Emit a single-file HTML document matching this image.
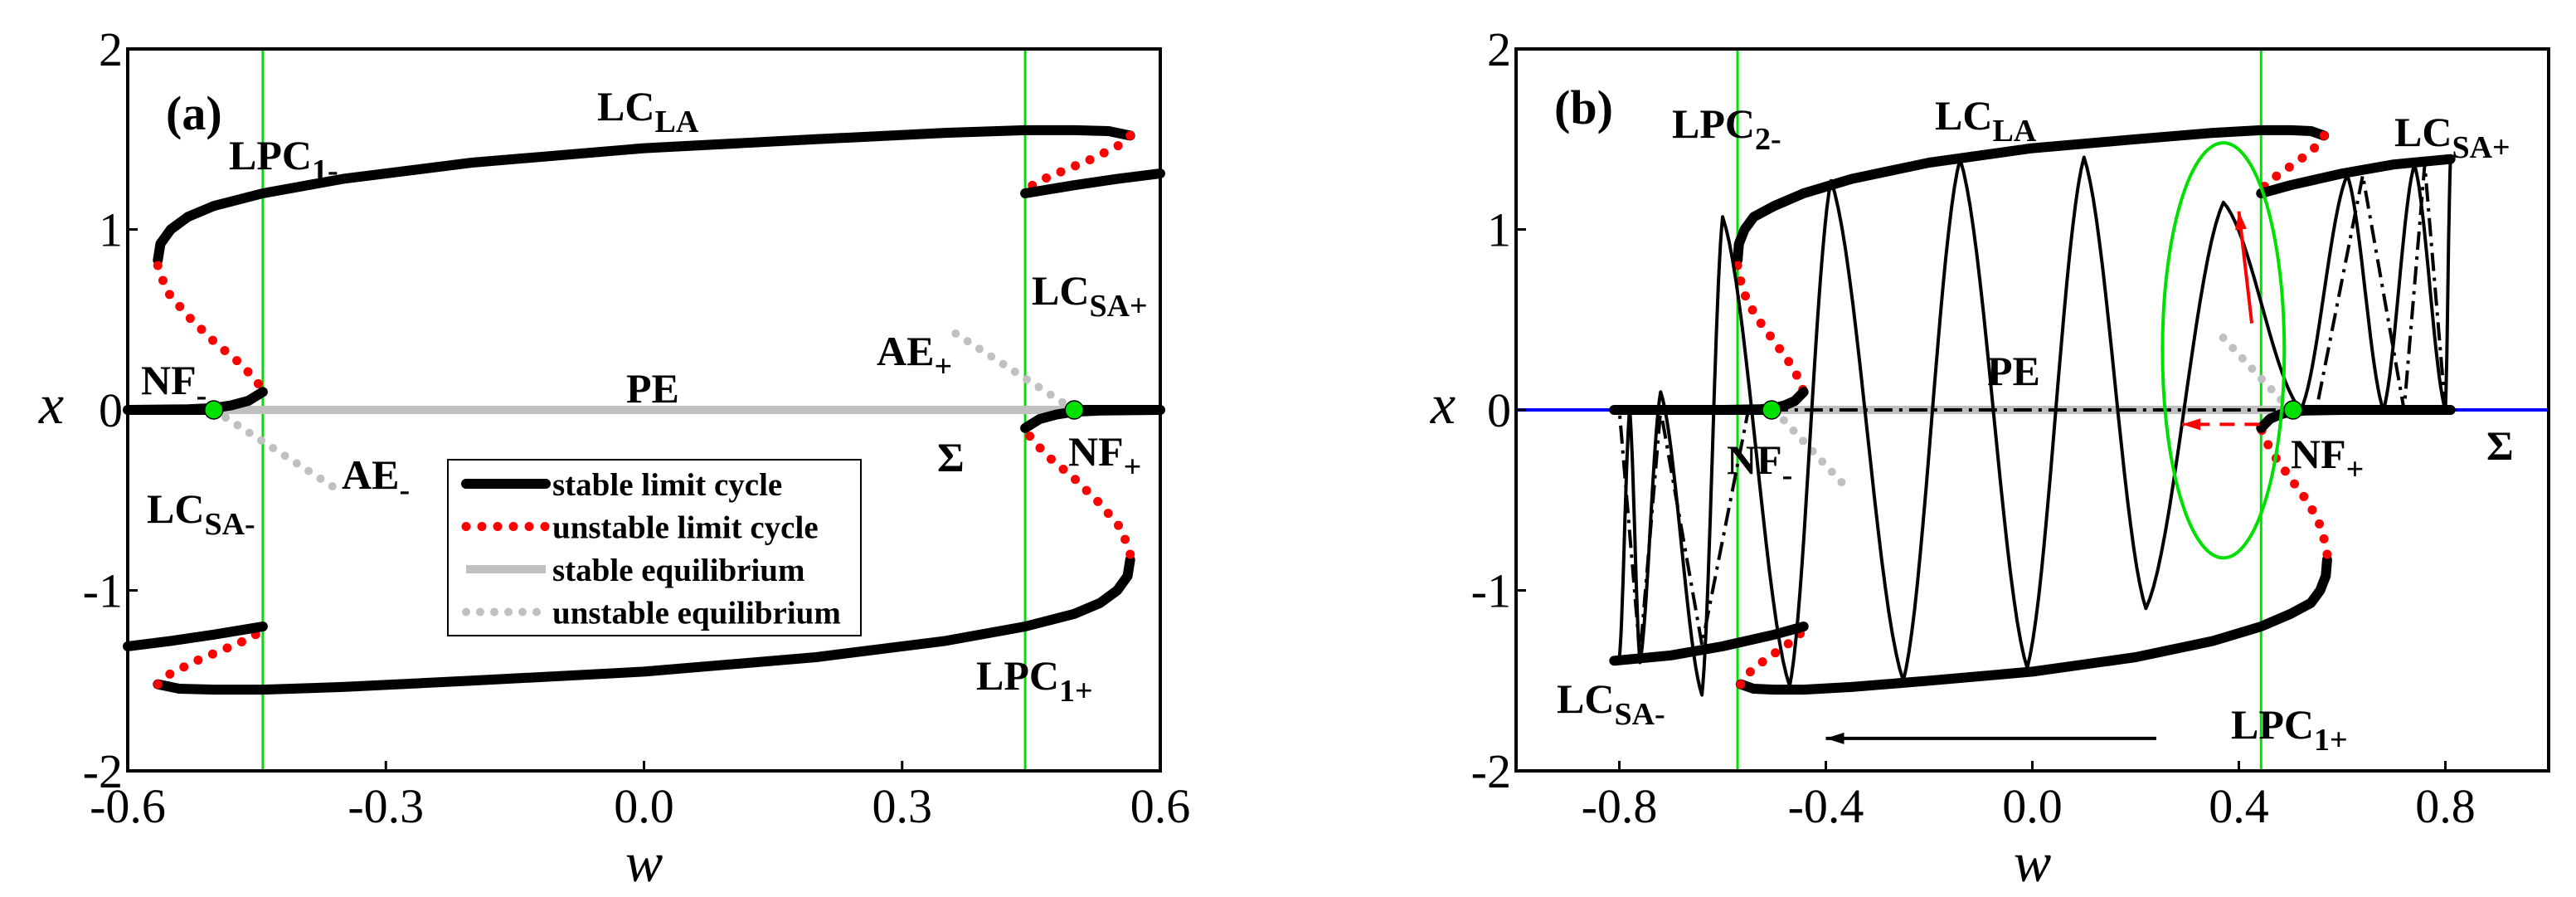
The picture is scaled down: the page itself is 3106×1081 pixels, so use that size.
<!DOCTYPE html>
<html><head><meta charset="utf-8"><style>
html,body{margin:0;padding:0;background:#fff;width:3106px;height:1081px;overflow:hidden}
svg text{font-family:"Liberation Serif","Times New Roman",serif;font-weight:bold;fill:#000}
</style></head><body>
<svg id="fig" width="3106" height="1081" viewBox="0 0 3106 1081" xmlns="http://www.w3.org/2000/svg"></svg>
<script>
// ---- data ----
const laW=[-0.565,-0.562,-0.55,-0.53,-0.5,-0.443,-0.35,-0.2,0,0.2,0.35,0.443,0.5,0.54,0.565];
const laX=[0.83,0.92,1.0,1.07,1.13,1.2,1.28,1.37,1.45,1.5,1.535,1.55,1.55,1.545,1.52];
const redUpW=[0.565,0.55,0.52,0.49,0.46,0.443];
const redUpX=[1.52,1.46,1.39,1.33,1.27,1.22];
const saW_a=[0.443,0.5,0.55,0.6];
const saX_a=[1.2,1.245,1.28,1.31];
const saW_b=[0.443,0.5,0.6,0.7,0.81];
const saX_b=[1.2,1.245,1.31,1.36,1.39];
const redMidW=[-0.565,-0.555,-0.53,-0.5,-0.47,-0.45,-0.443];
const redMidX=[0.8,0.66,0.52,0.38,0.26,0.16,0.1];
const conW=[-0.443,-0.46,-0.48,-0.5,-0.53,-0.6];
const conX=[0.1,0.05,0.025,0.01,0.003,0];
const aeW=[-0.5,-0.36];
const aeX=[0,-0.43];
// panel b oscillating trajectory extremes (w,x), sweeping left
const trW=[0.81,0.8,0.74,0.68,0.61,0.52,0.37,0.22,0.1,-0.01,-0.14,-0.25,-0.39,-0.47,-0.6,-0.64,-0.72,-0.76,-0.78,-0.8];
const trX=[1.39,0,1.36,0,1.3,0,1.15,-1.1,1.4,-1.43,1.39,-1.5,1.27,-1.53,1.07,-1.58,0.1,-1.4,0,-1.38];
const ddW=[0.8,0.76,0.72,0.64,0.55,-0.55,-0.64,-0.72,-0.76,-0.8];
const ddX=[0,1.36,0,1.3,0,0,-1.3,0,-1.36,0];
const xTicksA=["-0.6","-0.3","0.0","0.3","0.6"], xTickValsA=[-0.6,-0.3,0,0.3,0.6];
const xTicksB=["-0.8","-0.4","0.0","0.4","0.8"], xTickValsB=[-0.8,-0.4,0,0.4,0.8];
const yTicks=["2","1","0","-1","-2"], yTickVals=[2,1,0,-1,-2];

const NS="http://www.w3.org/2000/svg";
const FF='"Liberation Serif","Times New Roman",serif';
const svg=document.getElementById('fig');
function el(tag,attrs,parent){const e=document.createElementNS(NS,tag);for(const k in attrs)e.setAttribute(k,attrs[k]);(parent||svg).appendChild(e);return e;}

function panel(p){
  const g=el('g',{});
  
  
  const X=w=>p.L+(w-p.w0)/(p.w1-p.w0)*(p.R-p.L);
  const Y=x=>p.T+(2-x)/4*(p.B-p.T);
  const pts=(ws,xs,s)=>ws.map((w,i)=>X(s*w).toFixed(1)+','+Y(s*xs[i]).toFixed(1)).join(' ');
  const line=(ws,xs,s,style,name)=>{const e=el('polyline',Object.assign({points:pts(ws,xs,s),fill:'none','stroke-linejoin':'round'},style),g);return e;};
  const stab={stroke:'#000','stroke-width':12,'stroke-linecap':'round'};
  const red={stroke:'#f00','stroke-width':11,'stroke-linecap':'round','stroke-dasharray':'0 19'};
  const gd={stroke:'#c0c0c0','stroke-width':10,'stroke-linecap':'round','stroke-dasharray':'0 17'};
  p.green.forEach((w,i)=>{const e=el('line',{x1:X(w),x2:X(w),y1:p.T,y2:p.B,stroke:'#00e000','stroke-width':3},g);});
  if(p.b){
    const bl=el('line',{x1:p.L,x2:p.R,y1:Y(0),y2:Y(0),stroke:'#0000ff','stroke-width':4},g);
    
  }
  const pe=el('line',{x1:X(-p.nf),x2:X(p.nf),y1:Y(0),y2:Y(0),stroke:'#c0c0c0','stroke-width':10},g);
  
  const la=p.b?laW.map(w=>w<-0.5?-0.571+(w+0.565)*0.9:w):laW;
  const rm=p.b?redMidW.map(w=>w<-0.5?-0.571+(w+0.565):w):redMidW;
  [1,-1].forEach(s=>{
    const tag=s>0?'upper':'lower';
    line(la,laX,s,stab,'lc-la-'+tag);
    line(redUpW,redUpX,s,red,'unstable-lc-'+tag);
    line(p.b?saW_b:saW_a,p.b?saX_b:saX_a,s,stab,'lc-sa-'+tag);
    line(rm,redMidX,s,red,'unstable-lc-mid-'+tag);
    line(conW,conX,s,stab,'nf-connector-'+tag);
    line(aeW,aeX,s,gd,'unstable-equilibrium-'+tag);
    const eq=el('line',{x1:X(s*p.nf),x2:X(s*(p.b?0.81:0.6)),y1:Y(0),y2:Y(0),stroke:'#000','stroke-width':12,'stroke-linecap':p.b?'round':'butt'},g);
    
  });
  if(p.b){
    let d='M'+X(trW[0])+','+Y(trX[0]);
    for(let i=0;i<trW.length-1;i++){
      for(let k=1;k<=20;k++){const t=k/20;const f=0.6*(1-Math.cos(Math.PI*t))/2+0.4*t;
        const w=trW[i]+(trW[i+1]-trW[i])*t;
        const x=trX[i]+(trX[i+1]-trX[i])*f;
        d+=' L'+X(w).toFixed(1)+','+Y(x).toFixed(1);}
    }
    const tr=el('path',{d:d,fill:'none',stroke:'#000','stroke-width':4,'stroke-linejoin':'round'},g);
    
    let d2='M'+X(ddW[0])+','+Y(ddX[0]);
    for(let i=0;i<ddW.length-1;i++){d2+=' L'+X(ddW[i+1]).toFixed(1)+','+Y(ddX[i+1]).toFixed(1);}
    const dd=el('path',{d:d2,fill:'none',stroke:'#000','stroke-width':4,'stroke-dasharray':'22 8 4 8'},g);
    
    const ell=el('ellipse',{cx:X(0.37),cy:Y(0.33),rx:X(0.488)-X(0.37),ry:Y(0)-Y(1.15),fill:'none',stroke:'#00e000','stroke-width':4},g);
    
    const ar=(x1,y1,x2,y2,c,dash,name)=>{const a=el('line',{x1,y1,x2,y2,stroke:c,'stroke-width':4,'stroke-dasharray':dash||'none'},g);
      const ang=Math.atan2(y2-y1,x2-x1),L=22,W=7;
      const h=el('polygon',{points:`${x2},${y2} ${x2-L*Math.cos(ang)+W*Math.sin(ang)},${y2-L*Math.sin(ang)-W*Math.cos(ang)} ${x2-L*Math.cos(ang)-W*Math.sin(ang)},${y2-L*Math.sin(ang)+W*Math.cos(ang)}`,fill:c},g);
      };
    ar(X(0.425),Y(0.48),X(0.4),Y(1.1),'#f00',null,'red-arrow-up');
    ar(X(0.44),Y(-0.08),X(0.29),Y(-0.08),'#f00','18 12','red-arrow-left');
    ar(X(0.24),Y(-1.82),X(-0.4),Y(-1.82),'#000',null,'sweep-arrow');
  }
  [-p.nf,p.nf].forEach((w,i)=>{const c=el('circle',{cx:X(w),cy:Y(0),r:11,fill:'#00e000',stroke:'#000','stroke-width':1.5},g);});
  const fr=el('rect',{x:p.L,y:p.T,width:p.R-p.L,height:p.B-p.T,fill:'none',stroke:'#000','stroke-width':4},g);
  
  p.xv.forEach((v,i)=>{
    const t=el('line',{x1:X(v),x2:X(v),y1:p.B,y2:p.B-12,stroke:'#000','stroke-width':3},g);
    const tx=el('text',{x:X(v),y:p.B+62,'text-anchor':'middle','font-size':58,'font-family':FF,style:'font-weight:normal'},g);tx.textContent=p.xl[i];
  });
  yTickVals.forEach((v,i)=>{
    const t=el('line',{x1:p.L,x2:p.L+12,y1:Y(v),y2:Y(v),stroke:'#000','stroke-width':3},g);
    const tx=el('text',{x:p.L-6,y:Y(v)+20,'text-anchor':'end','font-size':58,'font-family':FF,style:'font-weight:normal'},g);tx.textContent=yTicks[i];
  });
  const xl=el('text',{x:(p.L+p.R)/2,y:1062,'text-anchor':'middle','font-size':68,'font-family':FF,style:'font-weight:normal;font-style:italic'},g);xl.textContent='w';
  const yl=el('text',{x:p.yx,y:510,'text-anchor':'middle','font-size':68,'font-family':FF,style:'font-weight:normal;font-style:italic'},g);yl.textContent='x';
  p.labels.forEach(l=>{
    const t=el('text',{x:l[0],y:l[1]+17,'font-size':l[4]||50,'font-family':FF},g);
    
    
    const a=el('tspan',{},t);a.textContent=l[2];
    if(l[3]){const b=el('tspan',{dy:14,'font-size':38},t);b.textContent=l[3];}
  });
  return g;
}

panel({name:'panel-a',L:154,R:1399,T:59,B:929,w0:-0.6,w1:0.6,nf:0.5,green:[-0.443,0.443],xv:xTickValsA,xl:xTicksA,yx:62,b:false,
 labels:[[200,139,'(a)',null,58],[720,128,'LC','LA'],[276,187,'LPC','1-'],[1244,350,'LC','SA+'],[1057,423,'AE','+'],[170,458,'NF','-'],[755,468,'PE'],[1130,551,'Σ'],[1288,544,'NF','+'],[412,572,'AE','-'],[177,613,'LC','SA-'],[1177,814,'LPC','1+']]});
panel({name:'panel-b',L:1828,R:3073,T:59,B:929,w0:-1,w1:1,nf:0.505,green:[-0.571,0.443],xv:xTickValsB,xl:xTicksB,yx:1740,b:true,
 labels:[[1874,132,'(b)',null,58],[2016,149,'LPC','2-'],[2333,139,'LC','LA'],[2887,159,'LC','SA+'],[2396,447,'PE'],[2082,554,'NF','-'],[2762,547,'NF','+'],[2998,537,'Σ'],[1877,842,'LC','SA-'],[2690,873,'LPC','1+']]});

const lg=el('g',{});


el('rect',{x:540,y:554,width:498,height:212,fill:'#fff',stroke:'#000','stroke-width':2},lg);
const legNames=['stable limit cycle','unstable limit cycle','stable equilibrium','unstable equilibrium'];
const legStyles=[{stroke:'#000','stroke-width':12,'stroke-linecap':'round'},{stroke:'#f00','stroke-width':11,'stroke-linecap':'round','stroke-dasharray':'0 19'},{stroke:'#c0c0c0','stroke-width':10},{stroke:'#c0c0c0','stroke-width':10,'stroke-linecap':'round','stroke-dasharray':'0 17'}];
legNames.forEach((n,i)=>{
  const y=583+i*51.5;
  const e=el('line',Object.assign({x1:562,x2:658,y1:y,y2:y},legStyles[i]),lg);
  
  
  const t=el('text',{x:666,y:y+14,'font-size':39,'font-family':FF},lg);t.textContent=n;
  
  
});
</script>
</body></html>
